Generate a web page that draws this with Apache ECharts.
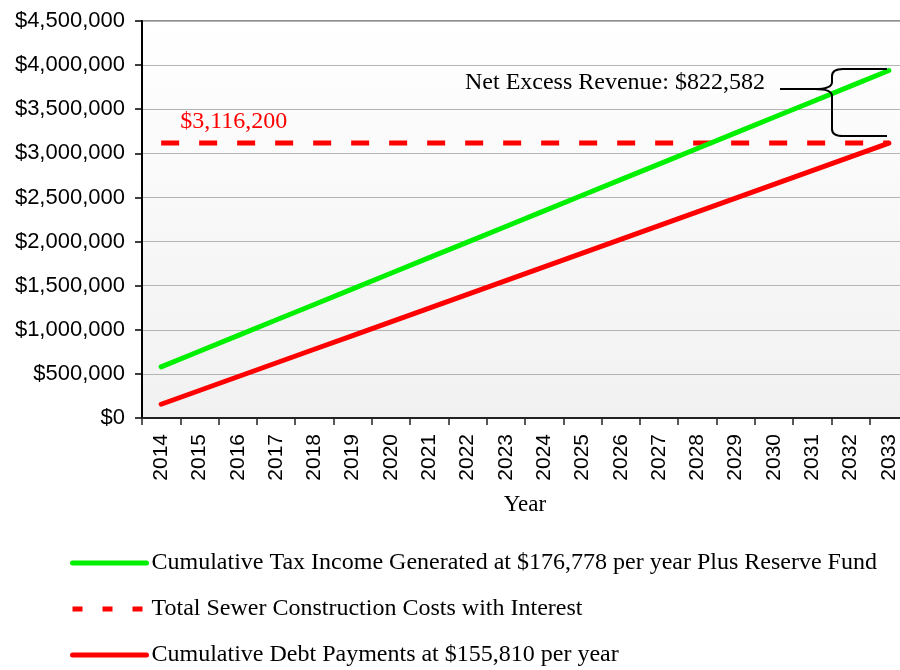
<!DOCTYPE html>
<html>
<head>
<meta charset="utf-8">
<script src="https://cdn.jsdelivr.net/npm/echarts@6/dist/echarts.min.js"></script>
<style>
  html, body { margin: 0; padding: 0; background: #ffffff; overflow: hidden; }
  /* plot area runs slightly past the right edge of the page */
  #chart { width: 910px; height: 670px; }
</style>
</head>
<body>
<div id="chart"></div>
<script>
// Sewer project cash flow, 2014-2033
const years = ['2014','2015','2016','2017','2018','2019','2020','2021','2022','2023',
               '2024','2025','2026','2027','2028','2029','2030','2031','2032','2033'];

// Cumulative tax income ($176,778 per year plus reserve fund)
const taxIncome = [580000, 756778, 933556, 1110334, 1287112, 1463890, 1640668, 1817446,
                   1994224, 2171002, 2347780, 2524558, 2701336, 2878114, 3054892, 3231670,
                   3408448, 3585226, 3762004, 3938782];

// Cumulative debt payments ($155,810 per year)
const debtPayments = [155810, 311620, 467430, 623240, 779050, 934860, 1090670, 1246480,
                      1402290, 1558100, 1713910, 1869720, 2025530, 2181340, 2337150, 2492960,
                      2648770, 2804580, 2960390, 3116200];

// Total construction cost with interest (flat reference line)
const totalCost = [3116200, 3116200, 3116200, 3116200, 3116200, 3116200, 3116200, 3116200,
                   3116200, 3116200, 3116200, 3116200, 3116200, 3116200, 3116200, 3116200,
                   3116200, 3116200, 3116200, 3116200];

const seriesNames = [
  'Cumulative Tax Income Generated at $176,778 per year Plus Reserve Fund',
  'Total Sewer Construction Costs with Interest',
  'Cumulative Debt Payments at $155,810 per year'
];

const yTicks = { min: 0, max: 4500000, step: 500000 };
const costLabelIndex = 2;
const netExcessText = 'Net Excess Revenue: $822,582';

const SANS = '"Liberation Sans", Arial, sans-serif';
const SERIF = '"Liberation Serif", "Times New Roman", serif';
const GREEN = '#00f000';
const RED = '#ff0000';

const fmtMoney = v => '$' + Math.round(v).toLocaleString('en-US');

// Curly brace built from straight runs and quadratic corners
const braceStyle = { stroke: '#000', fill: null, lineWidth: 2 };
function seg(x1, y1, x2, y2) {
  return { type: 'line', shape: { x1, y1, x2, y2 }, style: braceStyle, z: 10 };
}
function curve(x1, y1, cx, cy, x2, y2) {
  return { type: 'bezierCurve', shape: { x1, y1, cpx1: cx, cpy1: cy, x2, y2 }, style: braceStyle, z: 10 };
}
const brace = [
  seg(780, 89, 815, 89),
  curve(815, 89, 832, 89, 832, 82),
  seg(832, 82, 832, 76),
  curve(832, 76, 832, 69, 843, 69),
  seg(843, 69, 887, 69),
  curve(815, 89, 832, 89, 832, 96),
  seg(832, 96, 832, 129),
  curve(832, 129, 832, 136, 843, 136),
  seg(843, 136, 887, 136)
];

const chart = echarts.init(document.getElementById('chart'), null, { renderer: 'canvas' });

const option = {
  animation: false,
  backgroundColor: '#ffffff',
  grid: {
    left: 142, right: 2, top: 21, bottom: 252,
    show: true,
    borderWidth: 2,
    borderColor: '#8e8e8e',
    backgroundColor: {
      type: 'linear', x: 0, y: 0, x2: 0, y2: 1,
      colorStops: [{ offset: 0, color: '#ffffff' }, { offset: 1, color: '#f1f1f1' }]
    }
  },
  xAxis: {
    type: 'category',
    data: years,
    boundaryGap: true,
    name: 'Year',
    nameLocation: 'middle',
    nameGap: 75,
    nameTextStyle: { fontFamily: SERIF, fontSize: 23, color: '#000' },
    axisLine: { lineStyle: { color: '#222', width: 2 } },
    axisTick: { show: true, length: 7, lineStyle: { color: '#222', width: 1.5 } },
    axisLabel: { rotate: 90, margin: 16, fontFamily: SANS, fontSize: 21, color: '#000', interval: 0 },
    splitLine: { show: false }
  },
  yAxis: {
    type: 'value',
    min: yTicks.min, max: yTicks.max, interval: yTicks.step,
    axisLine: { show: true, lineStyle: { color: '#000', width: 2 } },
    axisTick: { show: true, length: 7, lineStyle: { color: '#000', width: 1.5 } },
    axisLabel: { margin: 17, fontFamily: SANS, fontSize: 22, color: '#000', formatter: fmtMoney },
    splitLine: { show: true, lineStyle: { color: '#b4b4b4', width: 1 } }
  },
  legend: {
    orient: 'vertical',
    left: 70,
    top: 551,
    padding: 0,
    itemWidth: 74,
    itemHeight: 14,
    itemGap: 22,
    selectedMode: false,
    itemStyle: { opacity: 0 },
    textStyle: { fontFamily: SERIF, fontSize: 24, color: '#000', lineHeight: 24 },
    data: [
      { name: seriesNames[0], lineStyle: { width: 5, cap: 'round' } },
      { name: seriesNames[1], lineStyle: { width: 5, type: [10, 20], cap: 'butt' } },
      { name: seriesNames[2], lineStyle: { width: 5, cap: 'round' } }
    ]
  },
  series: [
    {
      name: seriesNames[1],
      type: 'line',
      data: totalCost.map((v, i) => i === costLabelIndex
        ? { value: v, label: { show: true } }
        : v),
      symbol: 'circle',
      symbolSize: 0,
      showSymbol: true,
      lineStyle: { color: RED, width: 5, type: [18, 20] },
      itemStyle: { color: RED },
      label: {
        show: false,
        position: 'top',
        distance: 9,
        offset: [-4, 0],
        formatter: p => fmtMoney(p.value),
        fontFamily: SERIF, fontSize: 24, color: RED
      },
      z: 2
    },
    {
      name: seriesNames[0],
      type: 'line',
      data: taxIncome,
      symbol: 'none',
      lineStyle: { color: GREEN, width: 5, cap: 'round' },
      itemStyle: { color: GREEN },
      z: 3
    },
    {
      name: seriesNames[2],
      type: 'line',
      data: debtPayments,
      symbol: 'none',
      lineStyle: { color: RED, width: 5, cap: 'round' },
      itemStyle: { color: RED },
      z: 4
    }
  ],
  graphic: [
    {
      type: 'text',
      left: 465, top: 71,
      style: { text: netExcessText, fontFamily: SERIF, fontSize: 24, fill: '#000' },
      z: 10
    }
  ].concat(brace)
};

chart.setOption(option);
</script>
</body>
</html>
